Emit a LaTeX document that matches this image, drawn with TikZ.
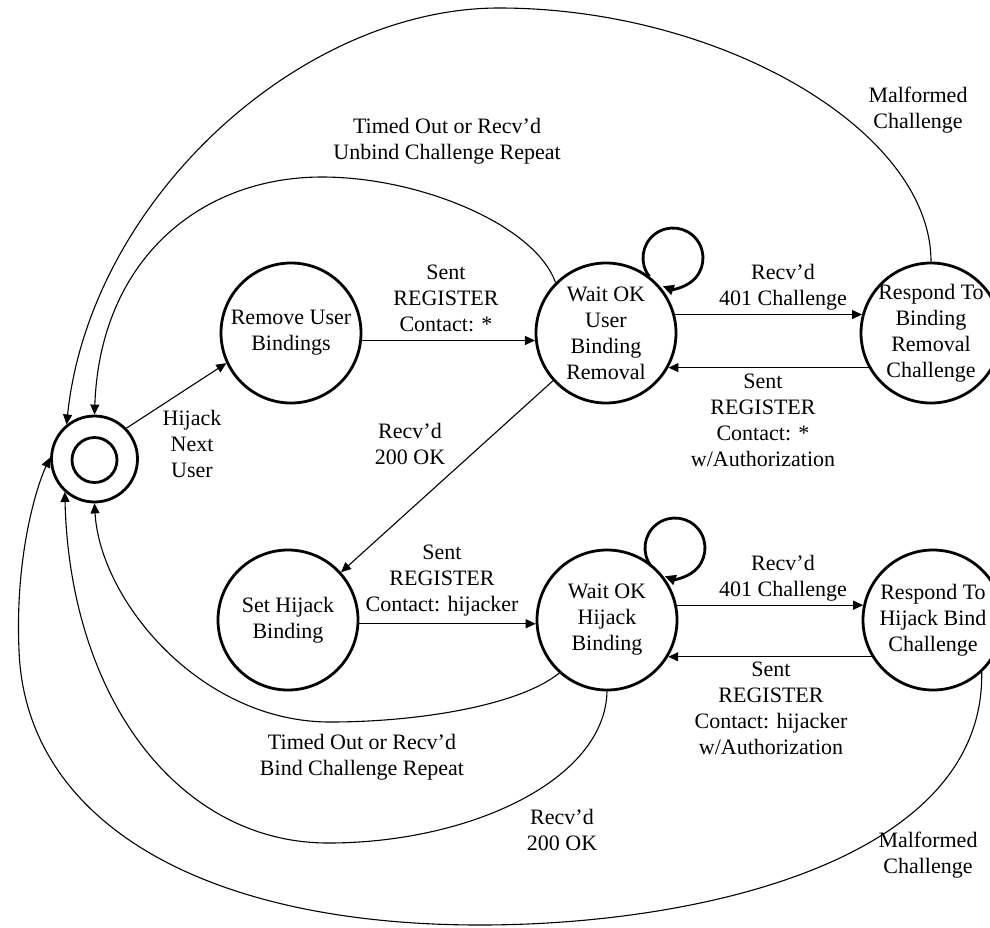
\documentclass[tikz,border=0pt]{standalone}
\usepackage{fontspec}
\setmainfont{Liberation Serif}
\usetikzlibrary{arrows.meta,calc}
\begin{document}
\begin{tikzpicture}[x=1pt,y=-1pt,
  state/.style={circle,draw,line width=2.8pt,minimum size=140pt,inner sep=0pt},
  txt/.style={align=center,font=\fontsize{22}{26}\selectfont,inner sep=0pt},
  edge/.style={line width=1.1pt,-{Triangle[length=10pt,width=9pt]}},
  selfloop/.style={line width=2.8pt,-{Triangle[length=11pt,width=10pt]}}]
\clip (0,0) rectangle (990,927);
\fill[white] (0,0) rectangle (990,927);

% states
\node[state,minimum size=86pt] (start) at (94.5,459) {};
\node[state,minimum size=45pt] (startin) at (94.5,460) {};
\node[state] (remove) at (291,333) {};
\node[state] (waitU)  at (606,333) {};
\node[state] (respU)  at (931,333) {};
\node[state] (setH)   at (288,620) {};
\node[state] (waitH)  at (607,620) {};
\node[state] (respH)  at (933,620) {};

\node[txt] (t-remove) at (remove) {Remove User\\Bindings};
\node[txt] (t-waitU)  at (waitU)  {Wait OK\\User\\Binding\\Removal};
\node[txt] (t-respU)  at (respU)  {Respond To\\Binding\\Removal\\Challenge};
\node[txt] (t-setH)   at (setH)   {Set Hijack\\Binding};
\node[txt] (t-waitH)  at (waitH)  {Wait OK\\Hijack\\Binding};
\node[txt] (t-respH)  at (respH)  {Respond To\\Hijack Bind\\Challenge};

% self loops
\coordinate (loopU) at (673,258);
\coordinate (loopH) at (675,548);
\draw[selfloop] ($(loopU)+(218:30pt)$) arc[start angle=218,end angle=-110,radius=30pt];
\draw[selfloop] ($(loopH)+(218:30pt)$) arc[start angle=218,end angle=-110,radius=30pt];

% straight transitions
\draw[edge] (start.44) -- (remove.205);
\draw[edge] (remove.-6) -- (waitU.186);
\draw[edge] (waitU.15) -- (respU.165);
\draw[edge] (respU.209) -- (waitU.-29);
\draw[edge] (waitU.222) -- (setH.42);
\draw[edge] (setH.-3) -- (waitH.183);
\draw[edge] (waitH.12) -- (respH.168);
\draw[edge] (respH.211) -- (waitH.-31);

% curved transitions back to the start state
\coordinate (topA) at (499,8);
\coordinate (topB) at (322,177);
\coordinate (botA) at (330,722);
\coordinate (botB) at (328,843);
\coordinate (botC) at (480,925);
\coordinate (botD) at (19,650);
\draw[edge] (respU.90) .. controls (931,130) and (720,8) .. (topA)
  .. controls (300,8) and (90,200) .. (start.129);
\draw[edge] (waitU.135) .. controls (535,225) and (420,177) .. (topB)
  .. controls (200,177) and (100,260) .. (start.90);
\draw[edge] (waitH.228) .. controls (520,705) and (420,722) .. (botA)
  .. controls (200,722) and (100,600) .. (start.270);
\draw[edge] (waitH.270) .. controls (605,780) and (470,843) .. (botB)
  .. controls (180,843) and (70,700) .. (start.228);
\draw[edge] (respH.-47) .. controls (985,860) and (700,925) .. (botC)
  .. controls (200,925) and (25,820) .. (botD)
  .. controls (15,560) and (35,490) .. (start.178);

% transition labels
\node[txt] (l-hijack) at (192,444) {Hijack\\Next\\User};
\node[txt] (l-sentU)  at (446,298) {Sent\\REGISTER\\Contact: *};
\node[txt] (l-401U)   at (783,287) {Recv'd\\401 Challenge};
\node[txt] (l-authU)  at (763,420) {Sent\\REGISTER\\Contact: *\\w/Authorization};
\node[txt] (l-malU)   at (918,110) {Malformed\\Challenge};
\node[txt] (l-toU)    at (447,141) {Timed Out or Recv'd\\Unbind Challenge Repeat};
\node[txt] (l-okU)    at (410,444) {Recv'd\\200 OK};
\node[txt] (l-sentH)  at (442,581) {Sent\\REGISTER\\Contact: hijacker};
\node[txt] (l-401H)   at (783,578) {Recv'd\\401 Challenge};
\node[txt] (l-authH)  at (771,708) {Sent\\REGISTER\\Contact: hijacker\\w/Authorization};
\node[txt] (l-toH)    at (362,757) {Timed Out or Recv'd\\Bind Challenge Repeat};
\node[txt] (l-okH)    at (562,830) {Recv'd\\200 OK};
\node[txt] (l-malH)   at (928,855) {Malformed\\Challenge};
\end{tikzpicture}
\end{document}
